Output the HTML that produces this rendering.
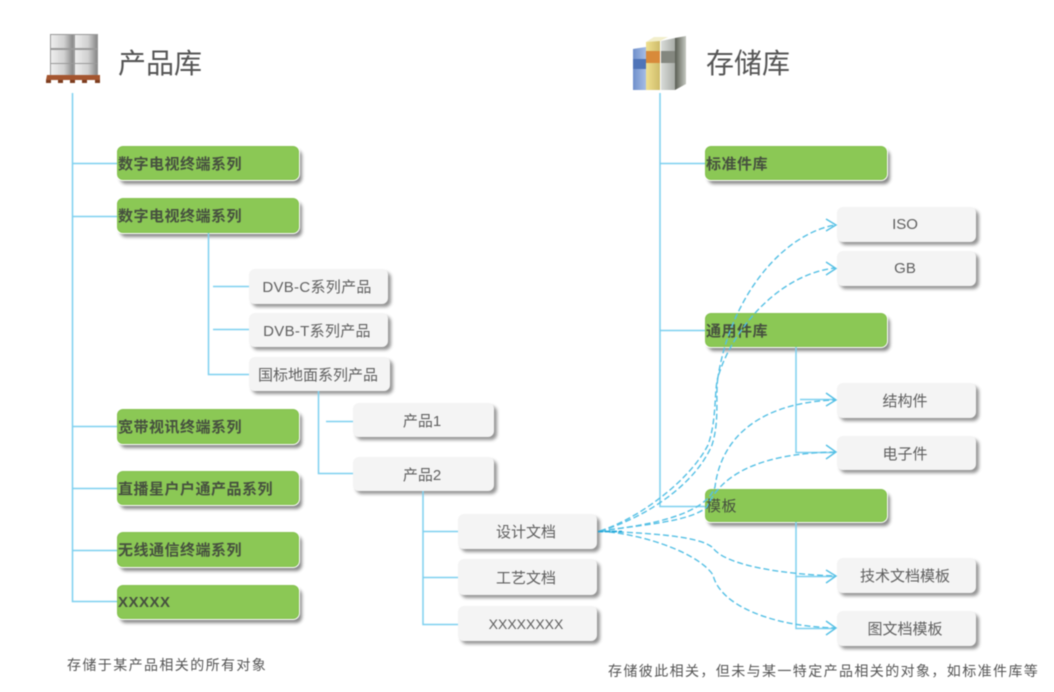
<!DOCTYPE html>
<html><head><meta charset="utf-8">
<style>
html,body{margin:0;padding:0;background:#fff}
#c{position:relative;width:1054px;height:692px;overflow:hidden;background:#fff;font-family:"Liberation Sans","Noto Sans CJK SC",sans-serif;filter:blur(.5px)}
.g,.w{position:absolute;box-sizing:border-box;border-radius:6px;white-space:nowrap}
.g{background:#8bc855;border:1px solid #85c250;box-shadow:0 0 0 1px #fff,3px 4px 3px #8a8a8a;color:#46503f;font-size:15px;font-weight:bold;letter-spacing:.5px;display:flex;align-items:center}
.w{background:#f4f4f4;box-shadow:3px 3px 3px #959595;color:#5f5f5f;font-size:15px;display:flex;align-items:center;justify-content:center;padding-right:3px}
.t{position:absolute;white-space:nowrap;color:#555}
svg{position:absolute;left:0;top:0}
</style></head><body><div id="c">

<div class="t" style="left:118px;top:46px;font-size:28px;line-height:36px">产品库</div>
<div class="t" style="left:706px;top:46px;font-size:28px;line-height:36px">存储库</div>
<div class="t" style="left:67px;top:655px;font-size:14px;letter-spacing:1.4px;line-height:20px">存储于某产品相关的所有对象</div>
<div class="t" style="left:608px;top:661px;font-size:14px;letter-spacing:1.4px;line-height:20px">存储彼此相关，但未与某一特定产品相关的对象，如标准件库等</div>

<div class="g" style="left:117px;top:146px;width:182px;height:34px">数字电视终端系列</div>
<div class="g" style="left:117px;top:198px;width:182px;height:35px">数字电视终端系列</div>
<div class="g" style="left:117px;top:409px;width:182px;height:35px">宽带视讯终端系列</div>
<div class="g" style="left:117px;top:471px;width:182px;height:34px">直播星户户通产品系列</div>
<div class="g" style="left:117px;top:532px;width:182px;height:35px">无线通信终端系列</div>
<div class="g" style="left:117px;top:585px;width:182px;height:34px">XXXXX</div>
<div class="g" style="left:705px;top:146px;width:182px;height:34px">标准件库</div>
<div class="g" style="left:705px;top:313px;width:182px;height:34px">通用件库</div>
<div class="g" style="left:705px;top:489px;width:182px;height:33px;font-weight:normal">模板</div>

<div class="w" style="left:249px;top:269px;width:139px;height:35px;letter-spacing:.3px">DVB-C系列产品</div>
<div class="w" style="left:249px;top:313px;width:139px;height:34px;letter-spacing:.3px">DVB-T系列产品</div>
<div class="w" style="left:249px;top:357px;width:141px;height:34px">国标地面系列产品</div>
<div class="w" style="left:353px;top:403px;width:141px;height:34px">产品1</div>
<div class="w" style="left:353px;top:457px;width:141px;height:34px">产品2</div>
<div class="w" style="left:458px;top:514px;width:139px;height:35px">设计文档</div>
<div class="w" style="left:458px;top:559px;width:139px;height:36px">工艺文档</div>
<div class="w" style="left:458px;top:606px;width:139px;height:35px;font-size:14px">XXXXXXXX</div>
<div class="w" style="left:837px;top:207px;width:139px;height:35px">ISO</div>
<div class="w" style="left:837px;top:251px;width:139px;height:35px">GB</div>
<div class="w" style="left:837px;top:383px;width:139px;height:35px">结构件</div>
<div class="w" style="left:837px;top:436px;width:139px;height:34px">电子件</div>
<div class="w" style="left:837px;top:558px;width:139px;height:35px">技术文档模板</div>
<div class="w" style="left:837px;top:611px;width:139px;height:35px">图文档模板</div>

<svg width="1054" height="692" viewBox="0 0 1054 692" fill="none">
<defs>
<linearGradient id="d" x1="0" x2="1" y1="0" y2="0"><stop offset="0" stop-color="#eee"/><stop offset=".6" stop-color="#d0d0d0"/><stop offset="1" stop-color="#888"/></linearGradient>
<linearGradient id="b1" x1="0" x2="1" y1="0" y2="0"><stop offset="0" stop-color="#6f8fcc"/><stop offset="1" stop-color="#a6bde6"/></linearGradient>
<linearGradient id="b2" x1="0" x2="1" y1="0" y2="0"><stop offset="0" stop-color="#f0e08f"/><stop offset="1" stop-color="#cdbb6a"/></linearGradient>
<linearGradient id="b3" x1="0" x2="1" y1="0" y2="0"><stop offset="0" stop-color="#d8dbd8"/><stop offset="1" stop-color="#a9ada8"/></linearGradient>
<linearGradient id="b4" x1="0" x2="1" y1="0" y2="0"><stop offset="0" stop-color="#5a5e54"/><stop offset="1" stop-color="#c5c8c0"/></linearGradient>
</defs>
<g stroke="#7dd0ef" stroke-width="1.5">
<path d="M72.500 93V601.500H117M72 163.500H117M72 216.500H117M72 426.500H117M72 488.500H117M72 550.500H117"/>
<path d="M660 93V506.500H705M660 163.500H705M660 330.500H705"/>
<path d="M208.500 233V374.500H249M213 286.500H249M213 329.500H249"/>
<path d="M318.500 391V473.500H353M326 421.500H353"/>
<path d="M423 491V624.500H458M423 531.500H458M423 577.500H458"/>
<path d="M796 347V452.500H835M800 399.500H835"/>
<path d="M796 522V628.500H835M796 576.500H835"/>
</g>
<g stroke="#55c0e5" stroke-width="1.4" stroke-dasharray="6 3">
<path d="M600 531C640 518 690 480 708 445C717 420 714 390 718 377C730 300 780 235 835 225"/>
<path d="M600 531C645 518 695 485 712 445C720 420 715 395 718 377C730 335 775 275 835 268"/>
<path d="M600 531C650 525 705 515 715 487C722 430 770 402 835 400"/>
<path d="M600 531C640 525 690 522 707 507C725 465 780 453 835 452"/>
<path d="M600 531C640 533 700 535 713 548C725 565 780 574 835 576"/>
<path d="M600 531C650 535 700 555 713 575C720 605 770 626 835 628"/>
</g>
<path d="M598 531.500H622" stroke="#1fa5d8" stroke-width="1.8" stroke-dasharray="5 2"/>
<g stroke="#55c0e5" stroke-width="1.4">
<path d="M826 219L836 225L826 231M826 262L836 268.500L826 275M826 393L836 400L826 406M826 445L836 452L826 459M826 570L836 576L826 583M826 621L836 628L826 635"/>
</g>
<g>
<rect x="50" y="34" width="48" height="44" fill="#9a9a9a"/>
<rect x="51" y="35" width="22" height="13" fill="url(#d)"/>
<rect x="75" y="35" width="22" height="13" fill="url(#d)"/>
<rect x="51" y="50" width="22" height="13" fill="url(#d)"/>
<rect x="75" y="50" width="22" height="13" fill="url(#d)"/>
<rect x="51" y="64" width="22" height="13" fill="url(#d)"/>
<rect x="75" y="64" width="22" height="13" fill="url(#d)"/>
<path d="M47 75H100V80H46Z" fill="#a4552f"/>
<path d="M46 80H51V83H46ZM58 80H63V83H58ZM70 80H75V83H70ZM82 80H87V83H82ZM95 80H100V83H95Z" fill="#7d3d20"/>
</g>
<g>
<path d="M633 49L646 47V90H633Z" fill="url(#b1)"/>
<rect x="633" y="59" width="13" height="10" fill="#4f74b8"/>
<path d="M646 42L660 38V90H646Z" fill="url(#b2)"/>
<rect x="646" y="51" width="14" height="12" fill="#d88a3a"/>
<path d="M661 41L675 38V90H661Z" fill="url(#b3)"/>
<rect x="661" y="51" width="14" height="12" fill="#84877f"/>
<path d="M675 38L686 36V84L675 90Z" fill="url(#b4)"/>
<path d="M646 42L654 37H668L660 41Z" fill="#f2eecb"/>
</g>
</svg>
</div></body></html>
